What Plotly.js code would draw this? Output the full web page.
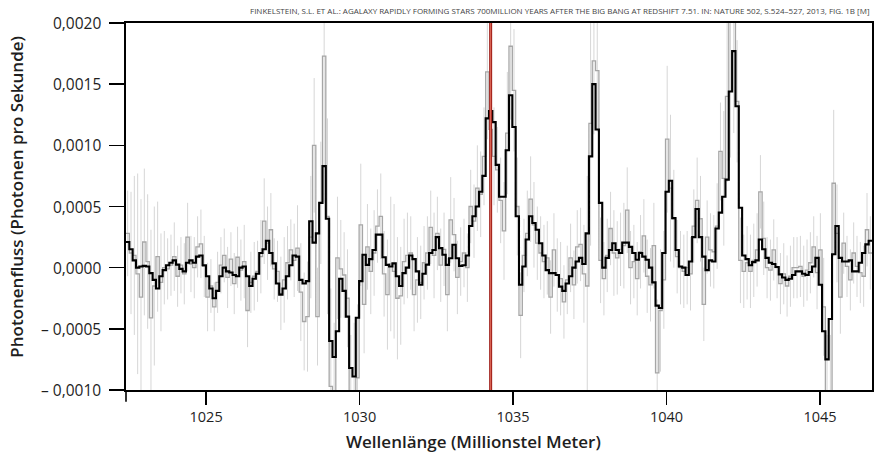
<!DOCTYPE html>
<html>
<head>
<meta charset="utf-8">
<script src="https://cdn.plot.ly/plotly-3.0.1.min.js"></script>
<style>html,body{margin:0;padding:0;background:#fff;}#chart{width:882px;height:458px;}</style>
</head>
<body>
<div id="chart"></div>
<script>
// Wavelength grid (nm): left edge of first bin and bin width
const lambdaStart = 1022.39;
const lambdaStep = 0.1085;

// Smoothed spectrum (black), units of 1e-4 photons/s
const blackFlux = [
 2.1,1.5,0.6,0.0,0.1,0.15,0.1,-0.45,-1.0,-1.7,-0.7,-0.2,0.2,0.4,0.6,0.25,-0.1,-0.3,0.4,0.6,0.4,0.9,1.0,0.2,-0.7,-1.7,-2.5,-1.9,-0.7,0.0,-0.3,-0.4,-0.6,
 -0.7,0.0,0.1,-0.7,-1.5,-0.9,-0.5,1.2,1.5,2.2,1.2,0.35,-1.3,-2.2,-1.7,-0.7,0.2,1.0,0.9,-1.0,-1.3,-1.1,3.8,2.05,2.8,5.3,8.3,4.0,-6.0,-7.3,-5.2,
 -0.9,-1.9,-4.0,-8.2,-8.9,-4.1,-1.1,1.05,0.23,0.7,1.45,2.7,2.7,0.85,0.23,0.1,0.35,-0.7,-1.5,-0.45,0.0,1.0,0.7,-0.3,-1.4,-0.5,0.25,1.2,1.45,2.5,1.6,1.05,
 0.23,0.77,1.87,0.77,0.15,0.2,1.0,3.4,4.2,5.0,6.2,7.5,12.2,12.8,11.9,8.4,5.8,5.8,9.6,14.1,11.5,4.2,-1.4,0.1,2.3,4.2,3.65,3.1,2.0,1.0,-0.2,-0.45,
 -0.45,-0.6,-1.55,-1.9,-1.3,-0.7,0.0,0.5,0.8,0.3,2.8,9.1,15.0,11.3,5.3,0.0,0.8,1.45,2.0,1.45,1.2,2.05,2.05,1.7,1.2,0.65,1.2,0.9,0.65,0.0,-1.2,-3.1,
 -3.3,1.2,6.2,7.1,4.05,1.45,0.1,0.0,-0.6,0.5,2.5,4.8,2.5,0.9,-0.2,0.6,0.5,3.2,4.5,5.8,7.2,14.4,17.7,13.2,4.9,1.0,0.7,0.2,0.45,0.6,2.3,
 1.5,0.8,0.4,0.3,0.05,-0.55,-0.8,-1.0,-0.9,-0.6,-0.3,-0.3,-0.5,-0.6,-0.35,0.1,0.8,-1.4,-5.2,-7.5,-4.2,1.1,3.4,0.8,0.5,0.5,0.6,-0.3,-0.3,0.4,1.2,1.9,2.2
];

// Unsmoothed spectrum (gray), units of 1e-4 photons/s
const grayFlux = [
 2.8,1.2,1.0,-0.5,-2.4,2.1,0.5,-4.1,-1.5,0.9,-1.2,0.0,-0.1,0.2,0.9,-0.7,0.2,-0.5,2.5,0.3,0.0,1.7,1.95,0.1,-2.4,-1.5,-3.2,-1.2,0.2,1.0,-0.8,0.7,-1.3,
 0.85,-0.2,0.5,-3.5,-1.2,-0.7,-0.3,0.9,3.8,2.0,3.1,-0.1,-0.3,-2.1,-1.0,0.4,1.45,0.6,1.6,-2.0,-4.4,-4.0,2.5,10.0,-4.0,5.3,17.3,4.2,-9.7,-10.5,0.8,
 -0.1,-0.6,-2.5,-10.5,-10.5,-9.0,3.5,-3.0,1.7,-0.3,1.2,3.4,4.2,-0.5,-2.2,0.3,-0.3,-2.5,-2.3,0.5,1.0,1.2,-2.2,-1.0,-1.2,0.4,1.2,3.3,1.0,2.8,0.2,1.5,
 -2.2,3.9,2.7,-0.8,0.5,1.2,0.0,5.0,3.8,6.5,6.0,9.1,16.0,11.3,9.1,8.0,5.5,3.0,11.0,18.1,14.5,5.0,-3.9,1.0,2.8,5.6,3.5,2.0,1.2,0.5,0.8,-2.4,
 1.45,-0.6,-0.9,-2.8,-1.0,0.8,-1.4,1.7,1.9,-0.5,-1.5,11.8,16.9,16.1,0.6,-0.9,1.0,3.2,1.2,0.8,1.5,1.8,4.7,0.0,0.5,-0.9,1.3,2.6,-0.7,-1.4,1.8,-8.6,
 -3.5,-1.0,10.5,6.5,4.0,0.9,0.0,-0.3,0.0,-0.5,3.4,5.5,4.0,-3.0,2.5,1.45,1.3,3.4,9.5,7.3,14.0,21.0,21.0,13.6,0.6,-0.3,0.4,-0.3,0.6,1.45,6.2,
 2.4,0.0,-0.2,1.45,0.0,-1.3,-0.5,-1.5,-0.7,0.0,0.0,0.1,-0.7,-0.2,0.4,1.7,-0.4,1.45,-3.2,-10.5,-10.5,6.9,2.8,-2.4,2.0,0.1,-1.0,1.2,0.1,-0.4,-0.7,3.1,1.2
];

// 1-sigma uncertainties of gray spectrum, units of 1e-4 photons/s
const grayError = [
 3.5,5.0,6.5,8.2,8.0,6.0,5.5,7.2,6.5,4.5,4.0,
 3.0,2.5,2.5,2.8,2.5,2.3,2.5,2.8,2.3,2.5,2.5,2.8,2.5,2.8,2.2,2.0,2.5,2.3,2.2,2.5,2.2,2.5,
 2.5,2.5,3.0,3.0,2.5,2.8,2.5,3.0,3.5,3.0,3.0,2.5,2.5,3.0,3.5,3.0,2.5,3.0,3.5,4.0,
 4.0,4.5,5.0,5.5,4.0,5.0,12.0,8.0,8.0,6.0,5.0,
 4.0,3.5,4.0,5.0,6.0,6.0,5.0,4.0,3.5,3.5,3.5,3.0,3.5,3.5,4.5,5.5,5.5,5.0,4.0,3.5,3.5,3.0,3.0,3.5,3.0,3.0,3.0,3.0,3.5,3.0,3.0,3.0,
 3.0,3.5,3.0,3.0,2.8,2.8,2.8,3.0,3.0,3.5,3.5,4.0,5.5,5.0,4.0,3.5,3.5,4.0,5.0,6.0,5.0,4.0,3.5,3.0,3.5,3.5,3.5,3.0,3.0,3.0,3.0,3.0,
 3.0,3.0,3.0,3.0,2.8,2.8,2.8,3.0,3.0,4.0,9.0,10.0,6.0,5.0,3.5,3.0,3.0,3.0,3.5,3.0,3.0,3.5,3.5,3.0,3.0,3.0,3.0,3.0,3.0,3.0,3.5,6.0,
 5.0,4.0,6.0,6.0,4.0,3.0,3.0,3.0,3.0,3.0,3.0,3.5,3.5,3.0,3.0,3.0,3.0,3.5,4.0,5.5,7.0,12.0,10.0,5.0,3.5,3.0,3.0,3.0,3.0,3.0,3.0,
 3.0,2.5,2.5,2.5,2.5,2.5,2.5,2.5,2.5,2.5,2.5,2.5,2.5,2.5,2.5,2.5,3.0,3.0,4.0,5.0,5.0,6.0,4.0,3.0,2.5,2.5,2.5,2.5,2.5,2.5,2.5,3.0,3.0
];

const fluxUnit = 1e-4;
const lineWavelength = 1034.27; // red marker line

const yTickVals = [-0.001, -0.0005, 0, 0.0005, 0.001, 0.0015, 0.002];
const yTickText = ["\u2013 0,0010", "\u2013 0,0005", "0,0000", "0,0005", "0,0010", "0,0015", "0,0020"];
const xTickVals = [1025, 1030, 1035, 1040, 1045];
const xTitle = 'Wellenlänge (Millionstel Meter)';
const yTitle = 'Photonenfluss (Photonen pro Sekunde)';
const sourceText = "FINKELSTEIN, S.L. ET AL.: AGALAXY RAPIDLY FORMING STARS 700MILLION YEARS AFTER THE BIG BANG AT REDSHIFT 7.51. IN: NATURE 502, S.524\u2013527, 2013, FIG. 1B [M]";

// build coordinates
const n = blackFlux.length;
const centers = [], edges = [];
for (let i = 0; i < n; i++) {
  centers.push(lambdaStart + lambdaStep * (i + 0.5));
  edges.push(lambdaStart + lambdaStep * i);
}
edges.push(lambdaStart + lambdaStep * n);
const blackY = blackFlux.map(v => v * fluxUnit);
const grayY = grayFlux.map(v => v * fluxUnit);
const errY = grayError.map(v => v * fluxUnit);
const blackStep = blackY.concat([blackY[n - 1]]);
const grayStep = grayY.concat([grayY[n - 1]]);

const FONT = "'Open Sans', 'Noto Sans', sans-serif";
const TXT = '#1e1e1e';

const traces = [
  {
    type: 'scatter', mode: 'markers', x: centers, y: grayY,
    marker: {opacity: 0, size: 1},
    error_y: {type: 'data', array: errY, visible: true, color: '#d6d6d6', thickness: 1, width: 0},
    hoverinfo: 'skip', showlegend: false
  },
  {
    type: 'scatter', mode: 'lines', x: edges, y: grayStep,
    line: {shape: 'hv', color: '#a6a6a6', width: 1.3},
    hoverinfo: 'skip', showlegend: false
  },
  {
    type: 'scatter', mode: 'lines', x: edges, y: blackStep,
    line: {shape: 'hv', color: '#000000', width: 2.1},
    hoverinfo: 'skip', showlegend: false
  }
];

// y tick labels placed as annotations so their distance from the ticks matches
const yLabelAnnotations = yTickVals.map((v, i) => ({
  xref: 'paper', yref: 'y', x: 0, y: v, xshift: -23, xanchor: 'right', yanchor: 'middle',
  text: yTickText[i], showarrow: false, font: {family: FONT, size: 15.5, color: TXT}
}));

const layout = {
  width: 882, height: 458,
  margin: {l: 126, r: 10, t: 23, b: 68},
  paper_bgcolor: '#ffffff', plot_bgcolor: '#ffffff',
  showlegend: false,
  font: {family: FONT, color: TXT},
  xaxis: {
    range: [lambdaStart, lambdaStart + lambdaStep * n],
    tickvals: xTickVals, ticktext: xTickVals.map(String),
    ticks: 'outside', ticklen: 13, tickwidth: 1.5, tickcolor: '#000',
    showline: true, linecolor: '#000', linewidth: 1.6, mirror: true,
    showgrid: false, zeroline: false,
    tickfont: {family: FONT, size: 14.5, color: TXT}
  },
  yaxis: {
    range: [-0.001, 0.002],
    tickvals: yTickVals, showticklabels: false,
    ticks: 'outside', ticklen: 15, tickwidth: 1.5, tickcolor: '#000',
    showline: true, linecolor: '#000', linewidth: 1.6, mirror: true,
    showgrid: false, zeroline: false
  },
  shapes: [
    {type: 'line', xref: 'paper', yref: 'paper', x0: 0, x1: 0, y0: 0, y1: -0.032,
     line: {color: '#000', width: 1.6}, layer: 'above'},
    {type: 'line', xref: 'x', yref: 'paper', x0: lineWavelength, x1: lineWavelength, y0: 0, y1: 1,
     line: {color: '#9e1b16', width: 3}, layer: 'above'},
    {type: 'line', xref: 'x', yref: 'paper', x0: lineWavelength, x1: lineWavelength, y0: 0, y1: 1,
     line: {color: '#e2705f', width: 1}, layer: 'above'}
  ],
  annotations: [
    {xref: 'paper', yref: 'paper', x: 1.0, y: 1, yshift: 13, xanchor: 'right', yanchor: 'middle',
     text: sourceText, showarrow: false, font: {family: FONT, size: 8, color: '#444'}},
    {xref: 'paper', yref: 'paper', x: 0.4653, y: 0, yshift: -51, xanchor: 'center', yanchor: 'middle',
     text: xTitle, showarrow: false, font: {family: FONT, size: 17, weight: 600, color: TXT}},
    {xref: 'paper', yref: 'paper', x: 0, xshift: -109, y: 0.5266, xanchor: 'center', yanchor: 'middle',
     textangle: -90, text: yTitle, showarrow: false, font: {family: FONT, size: 17, weight: 600, color: TXT}}
  ].concat(yLabelAnnotations)
};

Plotly.newPlot('chart', traces, layout, {staticPlot: true, displayModeBar: false});
</script>
</body>
</html>
